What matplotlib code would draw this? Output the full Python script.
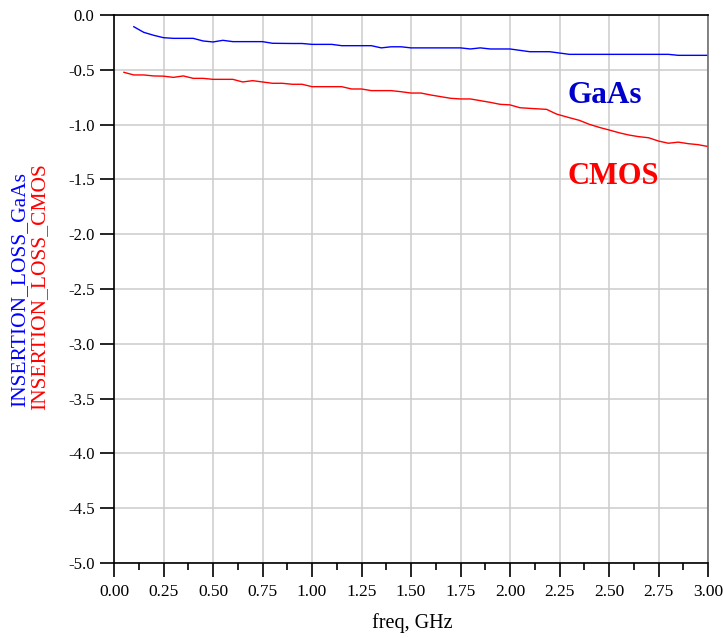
import numpy as np
import matplotlib
matplotlib.use("Agg")
import matplotlib.pyplot as plt
from matplotlib.ticker import MultipleLocator, FormatStrFormatter

plt.rcParams['font.family'] = ['Liberation Serif', 'DejaVu Serif']
plt.rcParams['axes.unicode_minus'] = False

# GaAs insertion loss (dB) vs freq (GHz)
freq_gaas = [0.10, 0.15, 0.20, 0.25, 0.30, 0.35, 0.40, 0.45, 0.50, 0.55, 0.60, 0.70, 0.75,
             0.80, 0.90, 0.95, 1.00, 1.10, 1.15, 1.30, 1.35, 1.40, 1.45, 1.50, 1.60, 1.75,
             1.80, 1.85, 1.90, 2.00, 2.10, 2.20, 2.30, 2.50, 2.80, 2.85, 3.00]
loss_gaas = [-0.107, -0.158, -0.185, -0.207, -0.213, -0.213, -0.213, -0.237, -0.246, -0.231,
             -0.243, -0.243, -0.243, -0.258, -0.260, -0.260, -0.268, -0.268, -0.280, -0.280,
             -0.300, -0.290, -0.290, -0.300, -0.300, -0.300, -0.310, -0.300, -0.310, -0.310,
             -0.335, -0.335, -0.359, -0.359, -0.359, -0.368, -0.368]

# CMOS insertion loss (dB) vs freq (GHz)
freq_cmos = [0.05, 0.10, 0.15, 0.20, 0.25, 0.30, 0.35, 0.40, 0.45, 0.50, 0.60, 0.65, 0.70,
             0.75, 0.80, 0.85, 0.90, 0.95, 1.00, 1.15, 1.20, 1.25, 1.30, 1.40, 1.45, 1.50,
             1.55, 1.60, 1.70, 1.75, 1.80, 1.90, 1.95, 2.00, 2.05, 2.10, 2.185, 2.235, 2.30,
             2.35, 2.40, 2.45, 2.50, 2.55, 2.60, 2.65, 2.70, 2.75, 2.80, 2.85, 2.90, 2.95, 3.00]
loss_cmos = [-0.523, -0.547, -0.547, -0.556, -0.558, -0.569, -0.556, -0.578, -0.578, -0.587,
             -0.587, -0.611, -0.599, -0.611, -0.623, -0.623, -0.632, -0.632, -0.654, -0.654,
             -0.675, -0.675, -0.690, -0.690, -0.700, -0.712, -0.712, -0.730, -0.760, -0.766,
             -0.766, -0.797, -0.815, -0.820, -0.846, -0.852, -0.861, -0.904, -0.937, -0.961,
             -0.997, -1.025, -1.049, -1.074, -1.095, -1.110, -1.120, -1.150, -1.170, -1.160,
             -1.174, -1.183, -1.200]

W, H = 723, 638
fig = plt.figure(figsize=(W / 100, H / 100), dpi=100)
ax = fig.add_axes([114 / W, (H - 563) / H, (708 - 114) / W, (563 - 15) / H])

ax.plot(freq_gaas, loss_gaas, color='#0000ff', lw=1.0)
ax.plot(freq_cmos, loss_cmos, color='#ff0000', lw=1.0)

ax.set_xlim(0, 3.0)
ax.set_ylim(-5.0, 0.0)
ax.xaxis.set_major_locator(MultipleLocator(0.25))
ax.xaxis.set_minor_locator(MultipleLocator(0.125))
ax.yaxis.set_major_locator(MultipleLocator(0.5))
ax.xaxis.set_major_formatter(FormatStrFormatter('%.2f'))
ax.yaxis.set_major_formatter(FormatStrFormatter('%.1f'))

ax.grid(True, which='major', color='#cccccc', lw=1.1)
ax.set_axisbelow(True)
ax.tick_params(axis='both', which='major', direction='out', length=10, width=1.2,
               color='black', labelsize=12, pad=4)
ax.tick_params(axis='x', which='minor', direction='out', length=5, width=1.2, color='black')
ax.tick_params(axis='x', which='major', labelsize=12.5, pad=5)

for s in ['left', 'bottom', 'top']:
    ax.spines[s].set_color('black')
    ax.spines[s].set_linewidth(1.2)
ax.spines['right'].set_color('#707070')
ax.spines['right'].set_linewidth(1.2)

fig.text(412 / W, 1 - 628 / H, 'freq, GHz', fontsize=14.5, ha='center', va='baseline')

fig.text(20 / W, 1 - 407 / H, 'INSERTION_LOSS_GaAs', color='#0000ff', fontsize=15.5,
         rotation=90, ha='center', va='bottom')
fig.text(40 / W, 1 - 410 / H, 'INSERTION_LOSS_CMOS', color='#ff0000', fontsize=15.5,
         rotation=90, ha='center', va='bottom')

ax.text(2.288, -0.735, 'GaAs', color='#0000cc', fontsize=22.5, fontweight='bold',
        ha='left', va='center')
ax.text(2.288, -1.475, 'CMOS', color='#ff0000', fontsize=22, fontweight='bold',
        ha='left', va='center')

fig.savefig('out.png', dpi=100)
